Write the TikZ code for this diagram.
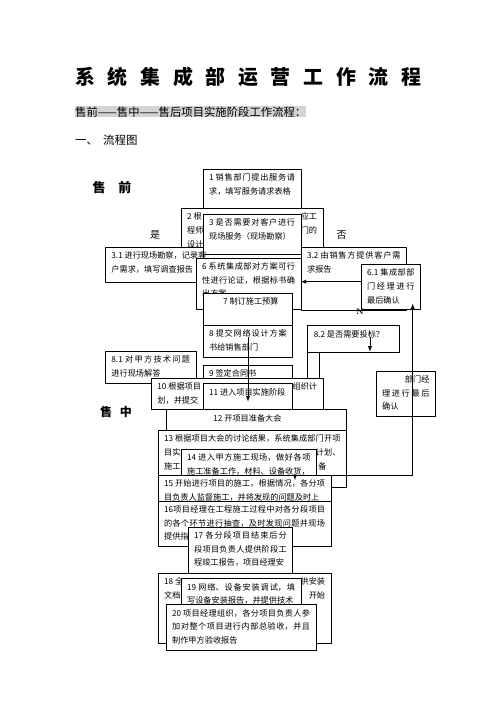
\documentclass[tikz,border=0pt]{standalone}
\usepackage{fontspec}
\newfontfamily\cjk{Noto Sans CJK SC}
\XeTeXlinebreaklocale "zh"
\XeTeXlinebreakskip=0pt plus 3pt minus 0.3pt
\definecolor{markgray}{RGB}{212,212,212}
\begin{document}
\begin{tikzpicture}[>=latex,line join=bevel,x=1bp,y=-1bp,
  stepbox/.style={draw,fill=white,line width=0.9bp,anchor=north west,
    inner xsep=6bp,inner ysep=4.5bp,font=\cjk\fontsize{8.2}{13.7}\selectfont},
  plain/.style={inner sep=0pt,font=\cjk},
  link/.style={black,line width=0.9bp},
]
\useasboundingbox (0,0) rectangle (496,702);
%%
\node (title) at (248.3,77) [plain,font=\cjk\bfseries\fontsize{20}{20}\selectfont] {系\hspace{12.7bp}统\hspace{12.7bp}集\hspace{12.7bp}成\hspace{12.7bp}部\hspace{12.7bp}运\hspace{12.7bp}营\hspace{12.7bp}工\hspace{12.7bp}作\hspace{12.7bp}流\hspace{12.7bp}程};
\node (subtitle) at (75,111.7) [plain,anchor=west,fill=markgray,font=\cjk\fontsize{11.4}{12}\selectfont] {售前——售中——售后项目实施阶段工作流程：};
\node (heading) at (75,140) [plain,anchor=west,font=\cjk\fontsize{11.5}{12}\selectfont] {一、\hspace{5bp}流程图};
\node (presale) at (112,188) [plain,font=\cjk\bfseries\fontsize{13}{13}\selectfont] {售\hspace{13bp}前};
\node (insale) at (116,411.7) [plain,font=\cjk\bfseries\fontsize{12}{12}\selectfont] {售\hspace{8bp}中};
\node (yes) at (155,235) [plain,font=\cjk\fontsize{10}{10}\selectfont] {是};
\node (no) at (341.7,235) [plain,font=\cjk\fontsize{10}{10}\selectfont] {否};
%
\node (node_1) at (202.7,169) [stepbox] {\parbox[c][30bp][t]{86bp}{1 销售部门提出服务请\linebreak 求，填写服务请求表格}};
\node (node_2) at (180.7,208) [stepbox] {\parbox[c][45bp][t]{130bp}{2 根\hfill 应工\\程师\hfill 门的\\设计}};
\node (node_3) at (202.7,214) [stepbox] {\parbox[c][31bp][t]{86bp}{3 是否需要对客户进行\linebreak 现场服务（现场勘察）}};
\node (node_31) at (105,247) [stepbox] {\parbox[c][26bp][t]{86bp}{\mbox{3.1 进行现场勘察，记录客}\\户需求，填写调查报告}};
\node (node_32) at (300.7,247) [stepbox] {\parbox[c][54bp][t]{93.3bp}{3.2 由销售方提供客户需\linebreak 求报告}};
\node (node_6) at (195.7,257.7) [stepbox] {\parbox[c][42.3bp][t]{93bp}{6 系统集成部对方案可行\linebreak 性进行论证，根据标书确\linebreak 出方案}};
\node (node_61) at (360.7,264) [stepbox] {\parbox[c][36bp][t]{47.3bp}{6.1 集成部部\linebreak 门经理进行\linebreak 最后确认}};
\node (node_7) at (202.7,292.7) [stepbox] {\parbox[c][23.3bp][t]{77.6bp}{\hspace*{14bp}7 制订施工预算}};
\node (node_8) at (202.7,325) [stepbox] {\parbox[c][23.3bp][t]{77.6bp}{8 提交网络设计方案\linebreak 书给销售部门}};
\node (node_81) at (105,351) [stepbox] {\parbox[c][23bp][t]{78.7bp}{8.1 对甲方技术问题\linebreak 进行现场解答}};
\node (node_82) at (307.3,325.3) [stepbox] {\parbox[c][17.4bp][t]{79.3bp}{8.2 是否需要投标？}};
\node (node_91) at (375.7,370.7) [stepbox] {\parbox[c][36.3bp][t]{47.3bp}{\hfill 部门经\\理进行最后\linebreak 确认}};
\node (node_83) at (307.3,351.7) [stepbox] {\parbox[c][22bp][t]{79.3bp}{}};
\node (node_9) at (202.7,365) [stepbox] {\parbox[c][16bp][t]{77bp}{9 签定合同书}};
\node (node_10) at (151,377.7) [stepbox] {\parbox[c][22.6bp][t]{159.7bp}{10 根据项目\hfill 组织计\\划，并提交}};
\node (node_11) at (202.7,383.3) [stepbox] {\parbox[c][17bp][t]{77.6bp}{11 进入项目实施阶段}};
\node (node_12) at (166,409.3) [stepbox] {\parbox[c][68.4bp][t]{168bp}{\hspace*{41bp}12 开项目准备大会}};
\node (node_13) at (157.7,430) [stepbox] {\parbox[c][47.7bp][t]{176.3bp}{13 根据项目大会的讨论结果，系统集成部门开项\linebreak 目实\hfill 计划、\\施工\hfill 备\hspace*{14bp}}};
\node (node_14) at (180.7,449) [stepbox] {\parbox[c][22bp][t]{123.3bp}{14 进入甲方施工现场，做好各项\linebreak 施工准备工作，材料、设备收货，}};
\node (node_15) at (157.7,475) [stepbox] {\parbox[c][21bp][t]{161bp}{15 开始进行项目的施工，根据情况，各分项\linebreak 目负责人监督施工，并将发现的问题及时上}};
\node (node_16) at (157.7,500.7) [stepbox] {\parbox[c][36.3bp][t]{161bp}{16项目经理在工程施工过程中对各分段项目\linebreak 的各个环节进行抽查，及时发现问题并现场\linebreak 提供指}};
\node (node_17) at (187.7,526.7) [stepbox] {\parbox[c][44bp][t]{92.6bp}{17 各分段项目结束后分\linebreak 段项目负责人提供阶段工\linebreak 程竣工报告，项目经理安}};
\node (node_18) at (157.7,572.7) [stepbox] {\parbox[c][61.6bp][t]{161bp}{18 全\hfill 供安装\\文档\hfill 开始}};
\node (node_19) at (180.7,578.3) [stepbox] {\parbox[c][21bp][t]{108bp}{19 网络、设备安装调试，填\linebreak 写设备安装报告，并提供技术}};
\node (node_20) at (165.7,604.3) [stepbox] {\parbox[c][36.7bp][t]{138bp}{20 项目经理组织，各分项目负责人参\linebreak 加对整个项目进行内部总验收，并且\linebreak 制作甲方验收报告}};
%
\node (mark_n) at (360,312) [inner sep=0pt,font=\bfseries\fontsize{8}{8}\selectfont] {N};
\coordinate (c_6) at (300.7,281.7);
\coordinate (c_8) at (248,337);
\coordinate (c_11) at (248,401.5);
\coordinate (c_82) at (370,337);
\coordinate (c_15) at (295,480);
\coordinate (c_61) at (412.7,303.5);
\draw [link,->] (node_61.west |- c_6) -- (c_6);
\draw [link,->] (c_8) -- (c_11);
\draw [link,->] (c_82) -- (c_82 |- node_83.north);
\draw [link,<->] (c_15) |- (c_61 |- node_15.north) -- (c_61);
%
\end{tikzpicture}
\end{document}
